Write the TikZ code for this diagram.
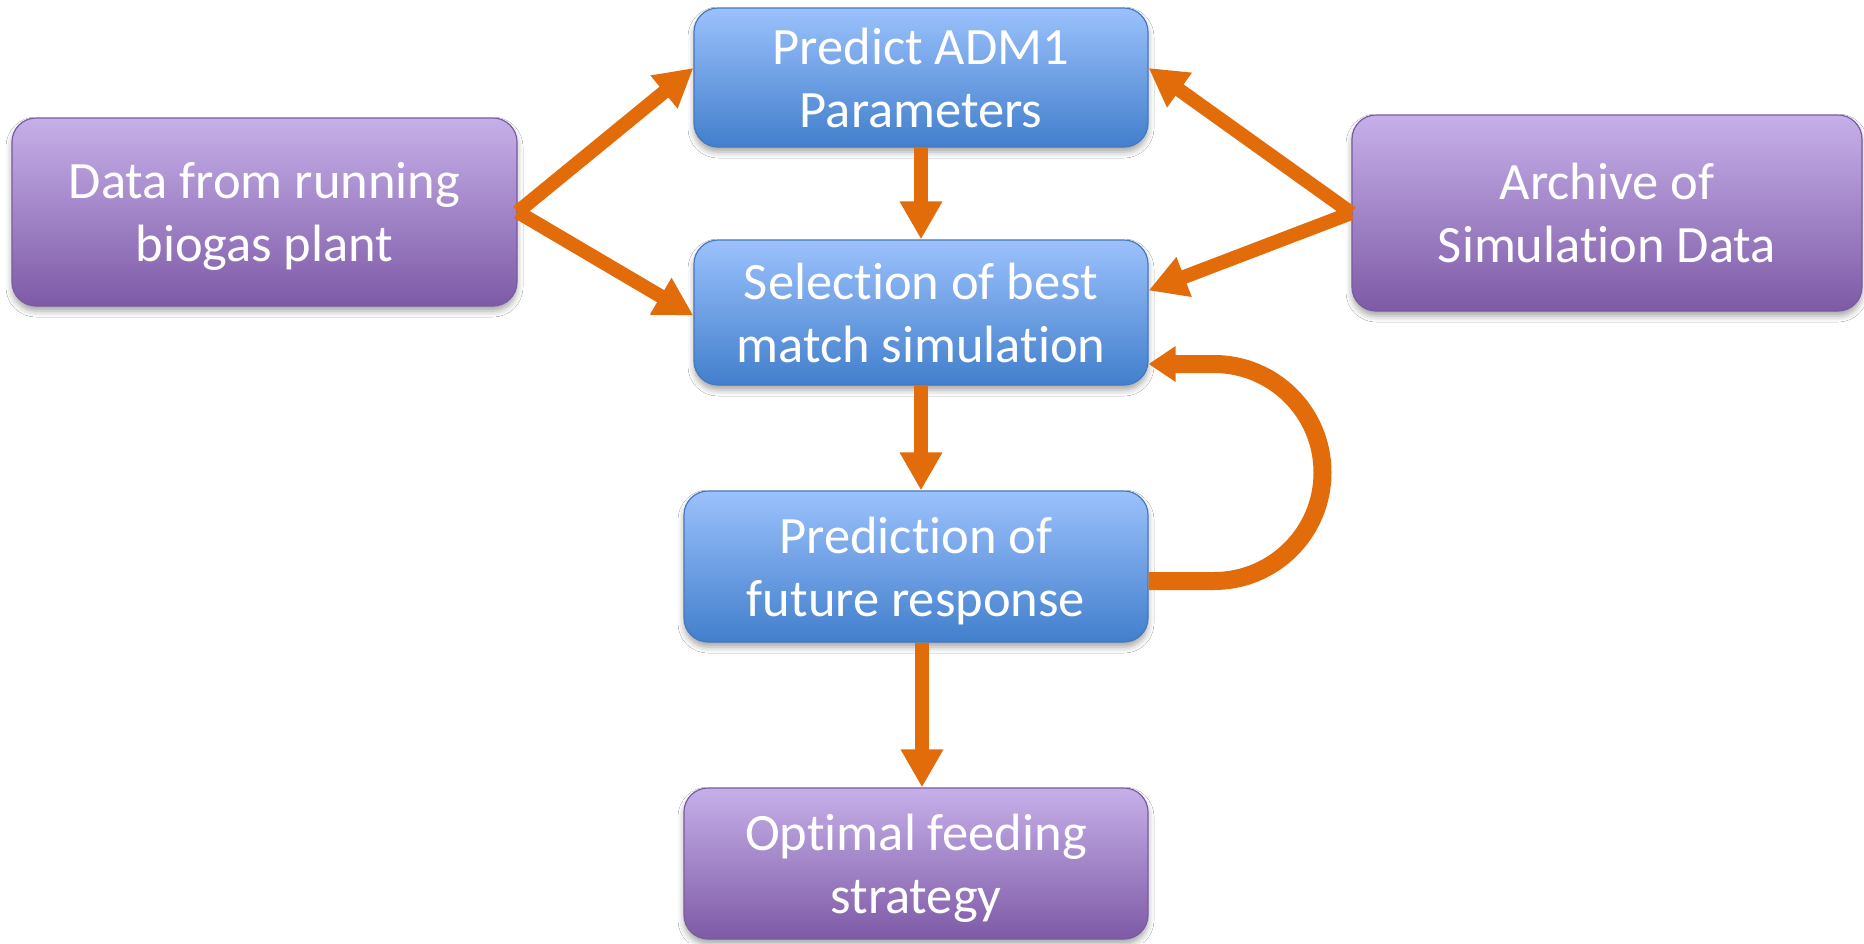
\documentclass[tikz,border=0pt]{standalone}
\usepackage{fontspec}
\setmainfont{Carlito}[Ligatures=NoCommon]
\usetikzlibrary{arrows.meta,shadows.blur}

\definecolor{flow}{RGB}{227,108,10}
\definecolor{purpletop}{RGB}{198,176,233}
\definecolor{purplemid}{RGB}{168,140,205}
\definecolor{purplebot}{RGB}{126,90,166}
\definecolor{purpleline}{RGB}{120,92,160}
\definecolor{bluetop}{RGB}{155,193,252}
\definecolor{bluemid}{RGB}{116,162,230}
\definecolor{bluebot}{RGB}{66,127,204}
\definecolor{blueline}{RGB}{70,120,190}

\tikzset{
  box/.style={rounded corners=24pt, line width=1.2pt, text=white, align=center,
    inner sep=0pt, font=\fontsize{52.5}{63}\selectfont,
    blur shadow={shadow xshift=0pt, shadow yshift=-5pt, shadow blur radius=6pt, shadow opacity=35}},
  purplebox/.style={box, draw=purpleline, top color=purpletop, middle color=purplemid, bottom color=purplebot},
  bluebox/.style={box, draw=blueline, top color=bluetop, middle color=bluemid, bottom color=bluebot},
  flowarrow/.style={draw=flow, line width=14pt, -{Triangle[length=38pt,width=40pt]}},
  looparrow/.style={draw=flow, line width=18pt, -{Triangle[length=27pt,width=34pt]}},
}

\begin{document}
\begin{tikzpicture}[x=1pt,y=-1pt]
\useasboundingbox (0,0) rectangle (1864,943);
\fill[white] (0,0) rectangle (1864,943);

% process boxes (descenders on the last line are smashed so all texts sit alike)
\node[purplebox, minimum width=505pt, minimum height=188pt] (data) at (264.5,212)
  {Data from running\\\smash{biogas plant}};
\node[bluebox, minimum width=454pt, minimum height=139pt] (pred) at (921,77.5)
  {Predict ADM1\\Parameters};
\node[bluebox, minimum width=454pt, minimum height=145pt] (sel) at (921,312.5)
  {Selection of best\\match simulation};
\node[purplebox, minimum width=510pt, minimum height=196pt] (arch) at (1607,213)
  {Archive of\\Simulation Data};
\node[bluebox, minimum width=464pt, minimum height=151pt] (fut) at (916,566.5)
  {Prediction of\\\smash{future response}};
\node[purplebox, minimum width=464pt, minimum height=151pt] (opt) at (916,863.5)
  {Optimal feeding\\\smash{strategy}};

% inputs
\draw[flowarrow] (data.east) -- ([yshift=9.5pt]pred.west);
\draw[flowarrow] (data.east) -- ([yshift=-3pt]sel.west);
\draw[flowarrow] (arch.west) -- ([yshift=9.5pt]pred.east);
\draw[flowarrow] (arch.west) -- ([yshift=22pt]sel.east);

% main chain
\draw[flowarrow] (pred.south) -- (sel.north);
\draw[flowarrow] (sel.south) -- (sel.south |- fut.north);
\draw[flowarrow] ([xshift=6pt]fut.south) -- ([xshift=6pt]opt.north);

% feedback loop
\coordinate (loopa) at (1214,581);
\draw[looparrow] ([yshift=-14.5pt]fut.east) -- (loopa)
  arc[start angle=90, end angle=-90, radius=108.5] -- ([yshift=-51.5pt]sel.east);
\end{tikzpicture}
\end{document}
